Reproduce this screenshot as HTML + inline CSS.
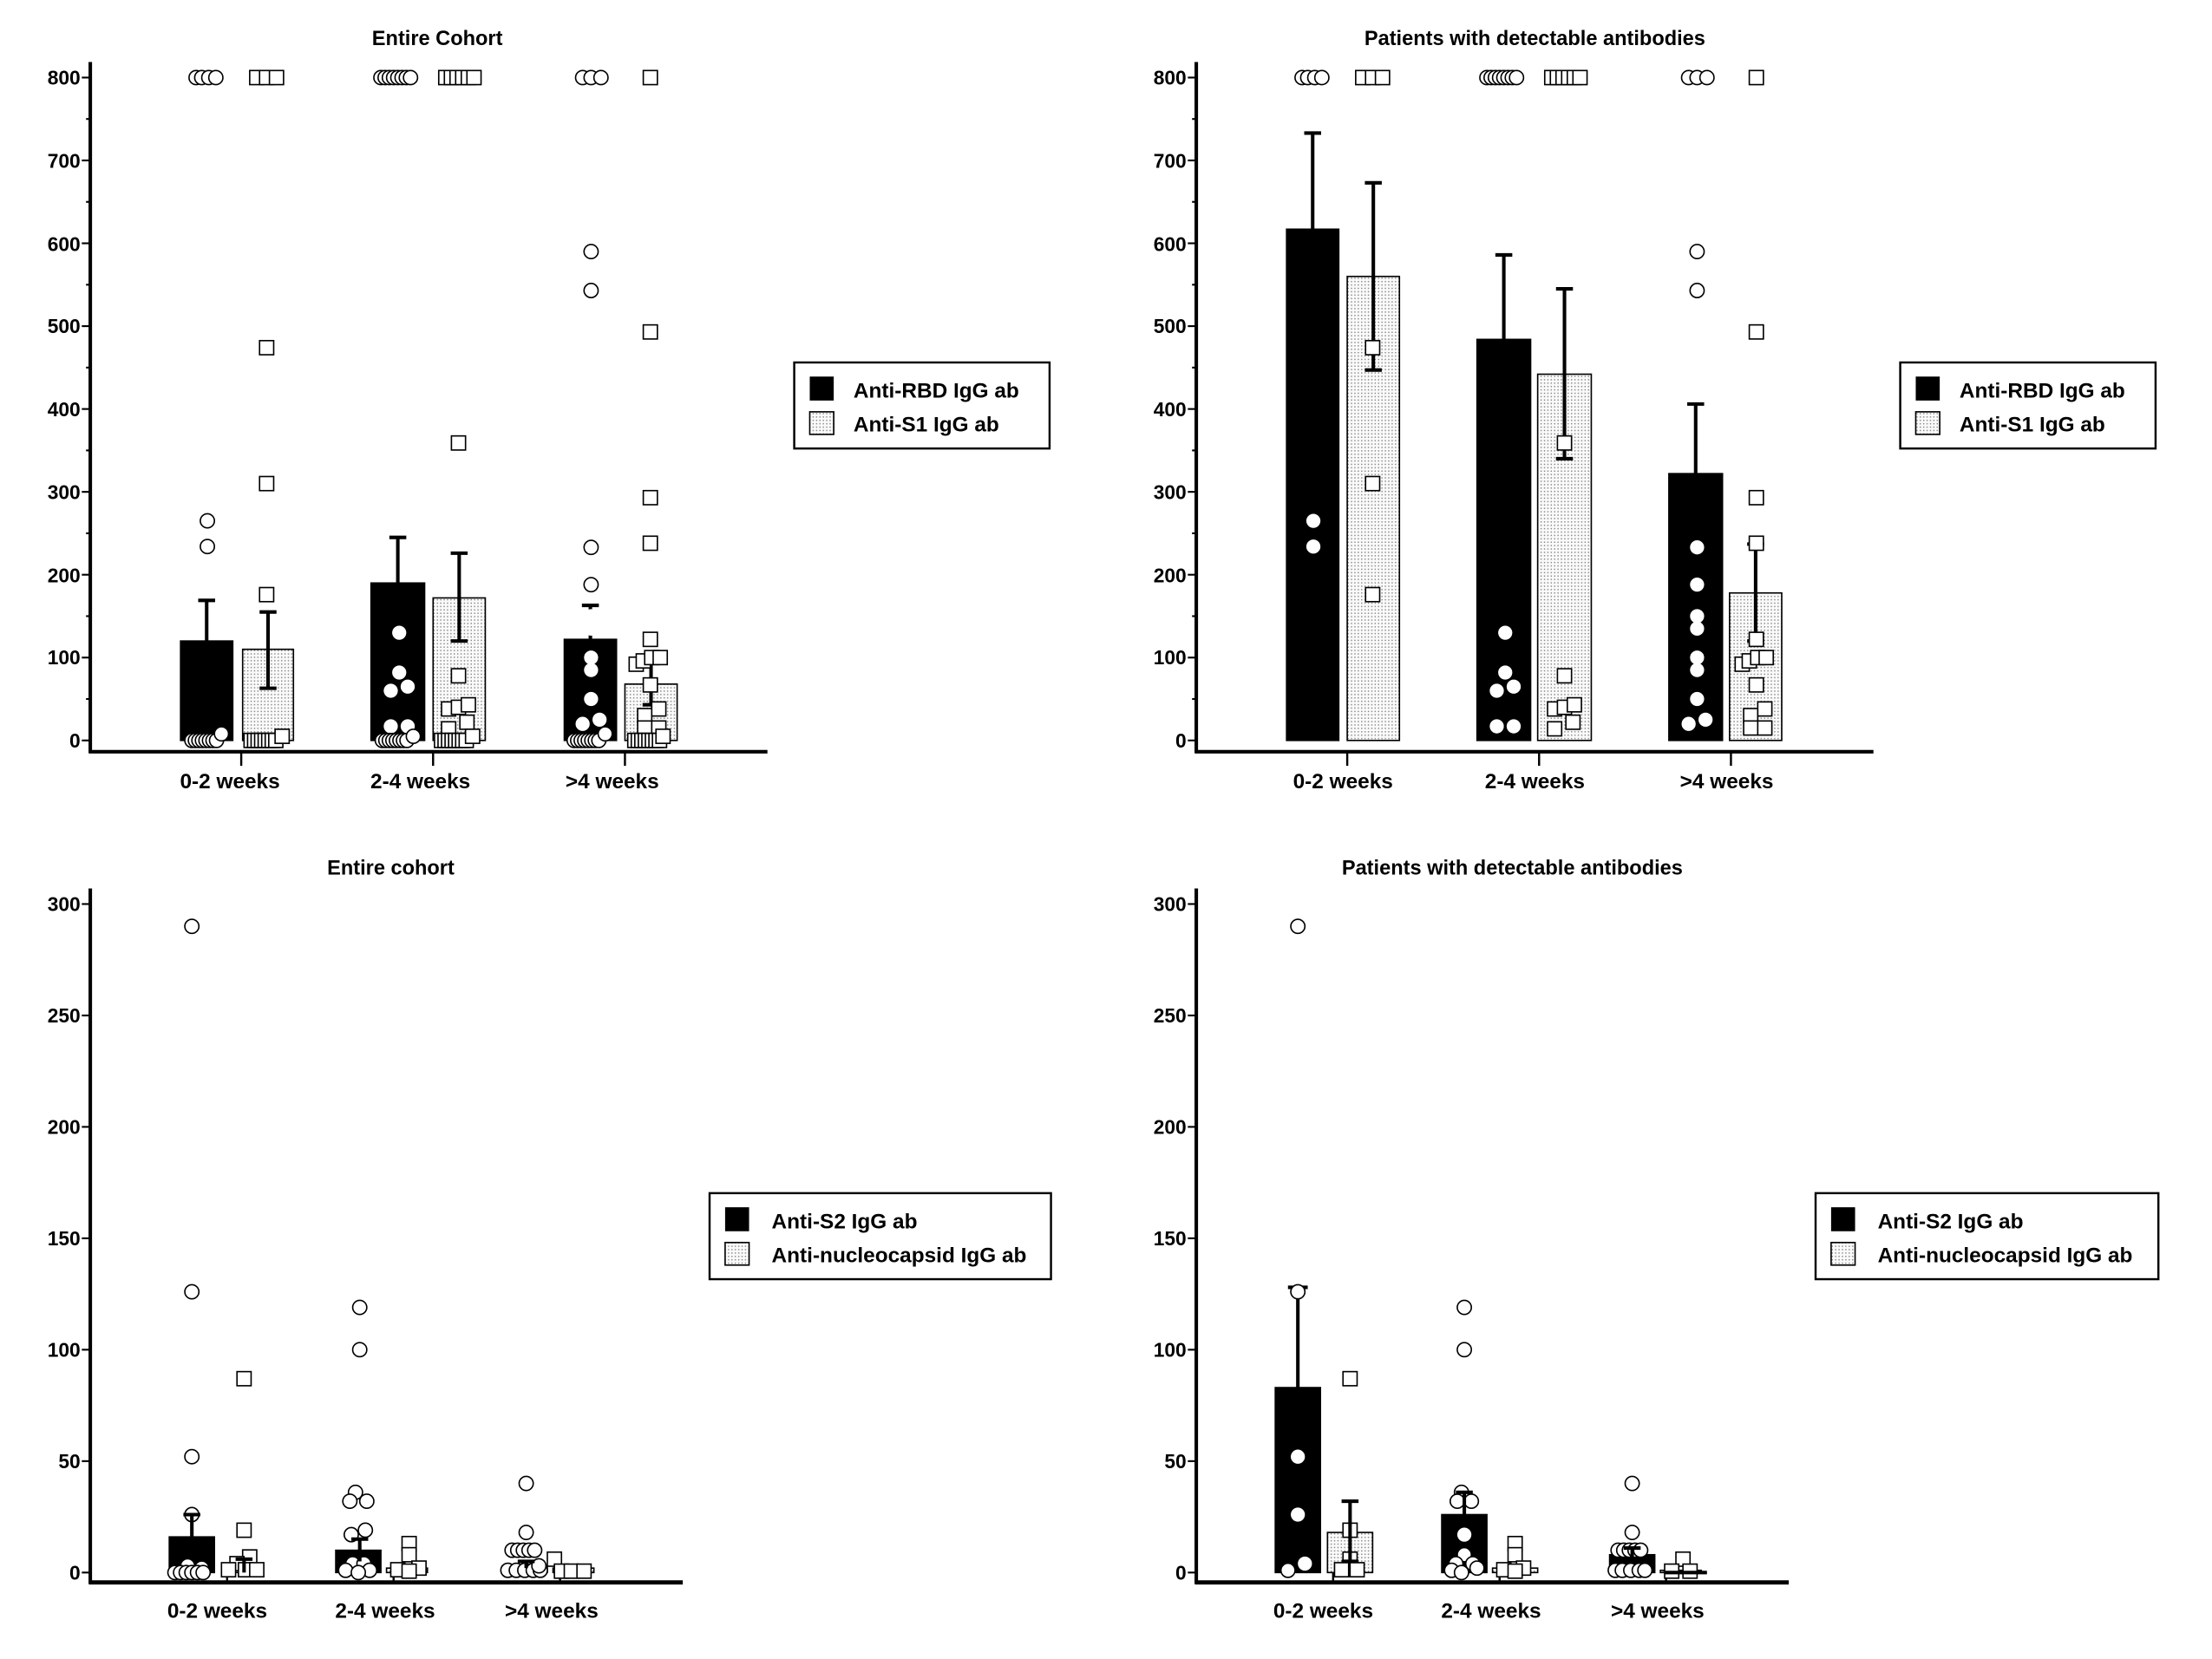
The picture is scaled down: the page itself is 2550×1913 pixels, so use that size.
<!DOCTYPE html>
<html><head><meta charset="utf-8"><style>
html,body{margin:0;padding:0;background:#fff}
svg{display:block}
text{font-family:"Liberation Sans",sans-serif;font-weight:bold;fill:#000}
</style></head><body>
<svg id="s" width="2550" height="1913" viewBox="0 0 1568 1176.3" preserveAspectRatio="none" xmlns="http://www.w3.org/2000/svg">
<defs>
<pattern id="dots" width="2.4" height="2.4" patternUnits="userSpaceOnUse"><rect width="2.4" height="2.4" fill="#fafafa"/><rect width="0.9" height="0.9" fill="#8a8a8a"/></pattern>
</defs>
<rect width="1568" height="1177" fill="#fff"/>
<text x="310" y="32" font-size="14.5" text-anchor="middle">Entire Cohort</text>
<text x="1088" y="32" font-size="14.5" text-anchor="middle">Patients with detectable antibodies</text>
<text x="277" y="620" font-size="14.5" text-anchor="middle">Entire cohort</text>
<text x="1072" y="620" font-size="14.5" text-anchor="middle">Patients with detectable antibodies</text>
<g font-size="15" text-anchor="middle">
<text x="163" y="559">0-2 weeks</text><text x="298" y="559">2-4 weeks</text><text x="434" y="559">&gt;4 weeks</text>
<text x="952" y="559">0-2 weeks</text><text x="1088" y="559">2-4 weeks</text><text x="1224" y="559">&gt;4 weeks</text>
<text x="154" y="1147">0-2 weeks</text><text x="273" y="1147">2-4 weeks</text><text x="391" y="1147">&gt;4 weeks</text>
<text x="938" y="1147">0-2 weeks</text><text x="1057" y="1147">2-4 weeks</text><text x="1175" y="1147">&gt;4 weeks</text>
</g>
<rect x="563" y="257" width="181" height="61" fill="#fff" stroke="#000" stroke-width="1.5"/>
<rect x="574" y="267" width="17" height="17" fill="#000"/><rect x="574" y="292" width="17" height="16" fill="url(#dots)" stroke="#000"/>
<text x="605" y="282" font-size="15">Anti-RBD IgG ab</text><text x="605" y="306" font-size="15">Anti-S1 IgG ab</text>
<rect x="1347" y="257" width="181" height="61" fill="#fff" stroke="#000" stroke-width="1.5"/>
<rect x="1358" y="267" width="17" height="17" fill="#000"/><rect x="1358" y="292" width="17" height="16" fill="url(#dots)" stroke="#000"/>
<text x="1389" y="282" font-size="15">Anti-RBD IgG ab</text><text x="1389" y="306" font-size="15">Anti-S1 IgG ab</text>
<rect x="503" y="846" width="242" height="61" fill="#fff" stroke="#000" stroke-width="1.5"/>
<rect x="514" y="856" width="17" height="17" fill="#000"/><rect x="514" y="881" width="17" height="16" fill="url(#dots)" stroke="#000"/>
<text x="547" y="871" font-size="15">Anti-S2 IgG ab</text><text x="547" y="895" font-size="15">Anti-nucleocapsid IgG ab</text>
<rect x="1287" y="846" width="243" height="61" fill="#fff" stroke="#000" stroke-width="1.5"/>
<rect x="1298" y="856" width="17" height="17" fill="#000"/><rect x="1298" y="881" width="17" height="16" fill="url(#dots)" stroke="#000"/>
<text x="1331" y="871" font-size="15">Anti-S2 IgG ab</text><text x="1331" y="895" font-size="15">Anti-nucleocapsid IgG ab</text>
<g font-size="14" text-anchor="end">
<text x="57" y="60">800</text><text x="57" y="119">700</text><text x="57" y="178">600</text><text x="57" y="236">500</text><text x="57" y="295">400</text><text x="57" y="354">300</text><text x="57" y="413">200</text><text x="57" y="471">100</text><text x="57" y="530">0</text>
<text x="841" y="60">800</text><text x="841" y="119">700</text><text x="841" y="178">600</text><text x="841" y="236">500</text><text x="841" y="295">400</text><text x="841" y="354">300</text><text x="841" y="413">200</text><text x="841" y="471">100</text><text x="841" y="530">0</text>
<text x="57" y="646">300</text><text x="57" y="725">250</text><text x="57" y="804">200</text><text x="57" y="883">150</text><text x="57" y="962">100</text><text x="57" y="1041">50</text><text x="57" y="1120">0</text>
<text x="841" y="646">300</text><text x="841" y="725">250</text><text x="841" y="804">200</text><text x="841" y="883">150</text><text x="841" y="962">100</text><text x="841" y="1041">50</text><text x="841" y="1120">0</text>
</g>
<g id="g"></g>
</svg>
<script>
(function(){
var g=document.getElementById('g'),out='';
function L(x1,y1,x2,y2,w){out+='<line x1="'+x1+'" y1="'+y1+'" x2="'+x2+'" y2="'+y2+'" stroke="#000" stroke-width="'+(w||1.5)+'"/>';}
function R(x,y,w,h,f){out+='<rect x="'+x+'" y="'+y+'" width="'+w+'" height="'+h+'" fill="'+f+'" stroke="#000" stroke-width="1"/>';}
function C(x,y){out+='<circle cx="'+x+'" cy="'+y+'" r="5" fill="#fff" stroke="#000" stroke-width="1"/>';}
function S(x,y){out+='<rect x="'+(x-5)+'" y="'+(y-5)+'" width="10" height="10" fill="#fff" stroke="#000" stroke-width="1"/>';}
function W(x,y){out+='<circle cx="'+x+'" cy="'+y+'" r="5" fill="#fff"/>';}
function topPanel(ox,bars){
  var Y=function(v){return 525-v*0.5875};
  L(ox,44,ox,534,2.5);L(ox-1,533,ox+480,533,2.5);
  for(var v=0;v<=800;v+=50){L(ox-(v%100?3:6),Y(v),ox,Y(v),1.3);}
  [ox+107,ox+243,ox+379].forEach(function(x){L(x,533,x,543,1.5)});
  bars.forEach(function(b){R(b[0],Y(b[2]),b[1]-b[0],b[2]*0.5875,b[3]?'#000':'url(#dots)');});
  bars.forEach(function(b){var cx=(b[0]+b[1])/2;L(cx,Y(b[4]),cx,Y(b[5]),2.5);L(cx-6,Y(b[5]),cx+6,Y(b[5]),2.5);if(!b[3])L(cx-6,Y(b[4]),cx+6,Y(b[4]),2.5);});
}
function pts(ox,entire){
  var Y=function(v){return 525-v*0.5875};
  var d=ox-64,i;
  [139,143,148,153].forEach(function(x){C(x+d,55)});
  [182,189,196].forEach(function(x){S(x+d,55)});
  for(i=0;i<8;i++)C(270+i*3+d,55);
  for(i=0;i<6;i++)S(316+i*4+d,55);
  [413,419,426].forEach(function(x){C(x+d,55)});S(461+d,55);
  [265,234].forEach(function(v){ if(entire)C(147+d,Y(v)); else W(147+d,Y(v)); });
  [474,310,176].forEach(function(v){S(189+d,Y(v))});
  [[283,130],[283,82],[277,60],[289,65],[277,17],[289,17]].forEach(function(p){W(p[0]+d,Y(p[1]))});
  S(325+d,Y(359));S(325+d,Y(78));[[318,38],[325,40],[332,43],[318,14],[331,22]].forEach(function(p){S(p[0]+d,Y(p[1]))});
  [590,543].forEach(function(v){C(419+d,Y(v))});
  [233,188].forEach(function(v){ if(entire)C(419+d,Y(v)); else W(419+d,Y(v)); });
  [[419,150],[419,135],[419,100],[419,85],[419,50],[413,20],[425,25]].forEach(function(p){W(p[0]+d,Y(p[1]))});
  [493,293,238,122].forEach(function(v){S(461+d,Y(v))});
  [[451,92],[456,96],[462,100],[468,100],[461,67],[457,30],[467,38],[457,15],[467,15]].forEach(function(p){S(p[0]+d,Y(p[1]))});
  if(entire){
    for(i=0;i<8;i++)C(136+i*2.5,525);C(157,Y(8));
    for(i=0;i<8;i++)S(178+i*2.5,525);S(200,Y(5));
    for(i=0;i<8;i++)C(271+i*2.5,525);C(293,Y(5));
    for(i=0;i<8;i++)S(313+i*2.5,525);S(335,Y(5));
    for(i=0;i<8;i++)C(407+i*2.5,525);C(429,Y(8));
    for(i=0;i<8;i++)S(450+i*2.5,525);S(470,Y(5));
  }
}
topPanel(64,[[128,165,120,1,120,169],[172,208,110,0,63,155],[263,301,190,1,190,245],[307,344,172,0,120,226],[400,437,122,1,122,163],[443,480,68,0,43,93]]);
pts(64,true);
topPanel(848,[[912,949,617,1,617,733],[955,992,560,0,447,673],[1047,1085,484,1,484,586],[1090,1128,442,0,340,545],[1183,1221,322,1,322,406],[1226,1263,178,0,120,237]]);
pts(848,false);
function bot(ox,w,bars){
  var Y=function(v){return 1115-v*1.58};
  L(ox,630,ox,1123,2.5);L(ox-1,1122,ox+w,1122,3);
  for(var v=0;v<=300;v+=50)L(ox-6,Y(v),ox,Y(v),1.3);
  [ox+97,ox+215,ox+333].forEach(function(x){L(x,1115,x,1122,1.5)});
  bars.forEach(function(b){R(b[0],Y(b[2]),b[1]-b[0],b[2]*1.58,b[3]?'#000':'url(#dots)');});
  return Y;
}
var Y=bot(64,420,[[120,152,16,1],[157,186,3,0],[238,270,10,1],[274,303,2,0],[356,388,3,1],[392,421,2,0]]);
[290,126,52].forEach(function(v){C(136,Y(v))});C(136,Y(26));C(133,Y(3));C(143,Y(2));for(var i=0;i<6;i++)C(124+i*4,1115);
L(136,Y(26),136,Y(16),2.5);L(130,Y(26),142,Y(26),2.5);
S(173,Y(87));S(173,Y(19));S(177,Y(7));S(168,Y(4));S(162,1113);S(174,1113);S(182,1113);L(173,Y(6),173,Y(0),2.5);L(167,Y(6),179,Y(6),2.5);
[119,100].forEach(function(v){C(255,Y(v))});[[252,36],[248,32],[260,32],[249,17],[259,19],[250,4],[258,4],[245,1],[262,1],[254,0]].forEach(function(p){C(p[0],Y(p[1]))});
L(255,Y(15),255,Y(5),2.5);L(249,Y(15),261,Y(15),2.5);
S(290,Y(13));S(290,Y(8));S(297,Y(2));S(282,1113);S(290,1114);
C(373,Y(40));C(373,Y(18));[363,367,371,375,379].forEach(function(x){C(x,Y(10))});[360,366,372,378,383].forEach(function(x){C(x,Y(1))});C(382,Y(3));
L(373,Y(5),373,Y(2),2.5);L(367,Y(5),379,Y(5),2.5);
S(393,Y(6));S(398,1114);S(405,1114);S(414,1114);
var Y2=bot(848,420,[[904,936,83,1],[941,973,18,0],[1022,1054,26,1],[1058,1090,2,0],[1141,1173,8,1],[1177,1206,1,0]]);
C(920,Y2(290));L(920,Y2(128),920,Y2(83),2.5);L(913,Y2(128),927,Y2(128),2.5);C(920,Y2(126));
W(920,Y2(52));W(920,Y2(26));W(925,Y2(4));C(913,Y2(1));
S(957,Y2(87));S(957,Y2(19));S(957,Y2(6));S(951,1113);S(962,1113);
L(957,Y2(32),957,Y2(5),2.5);L(951,Y2(32),963,Y2(32),2.5);L(951,Y2(5),963,Y2(5),2.5);
C(1038,Y2(119));C(1038,Y2(100));[[1036,36],[1033,32],[1043,32]].forEach(function(p){C(p[0],Y2(p[1]))});
L(1038,Y2(36),1038,Y2(17),2.5);L(1032,Y2(36),1044,Y2(36),2.5);W(1038,Y2(17));
[[1038,8],[1032,4],[1044,4],[1029,1],[1036,0],[1047,2]].forEach(function(p){C(p[0],Y2(p[1]))});
S(1074,Y2(13));S(1074,Y2(8));S(1080,Y2(2));S(1066,1113);S(1074,1114);
C(1157,Y2(40));C(1157,Y2(18));[1147,1151,1155,1159,1163].forEach(function(x){C(x,Y2(10))});[1145,1150,1156,1162,1166].forEach(function(x){C(x,Y2(1))});
L(1157,Y2(11),1157,Y2(6),2.5);L(1151,Y2(11),1163,Y2(11),2.5);
S(1193,Y2(6));S(1185,1114);S(1198,1114);L(1180,1115,1210,1115,2.5);
g.innerHTML=out;
})();
</script>
</body></html>
